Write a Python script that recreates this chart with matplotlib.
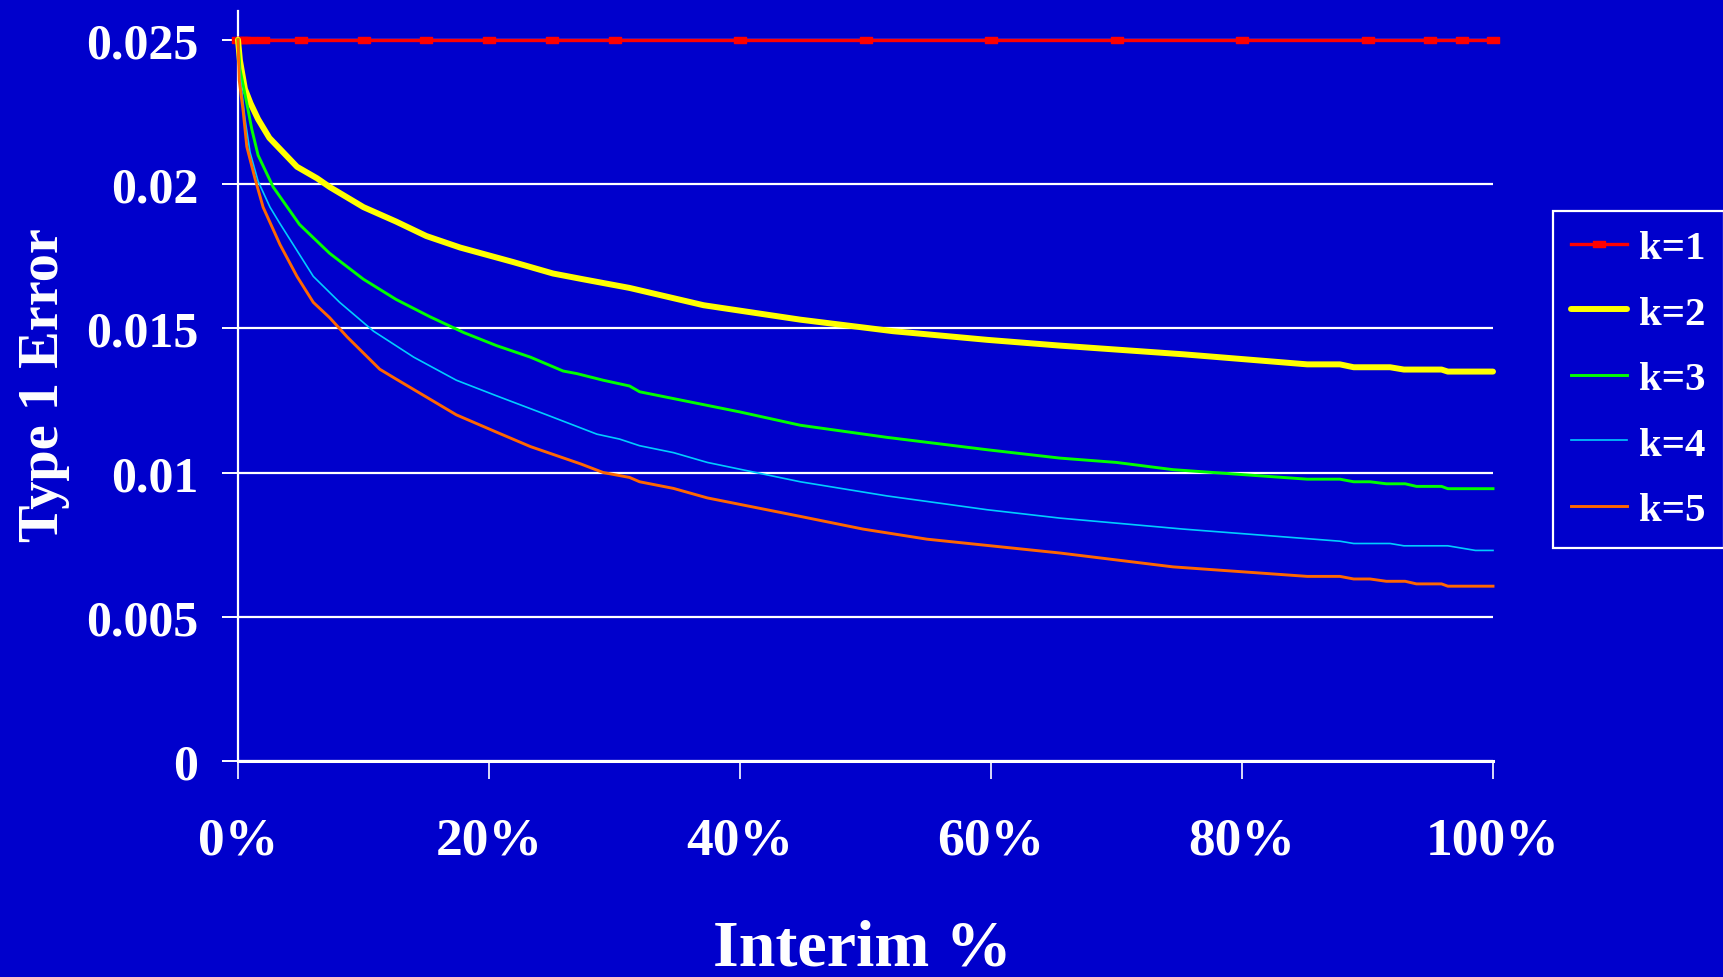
import matplotlib
matplotlib.use("Agg")
import matplotlib.pyplot as plt
from matplotlib.path import Path
from matplotlib.ticker import FormatStrFormatter, PercentFormatter

# Interim analysis fraction (%) and one-sided type 1 error at the final look
k1_x = [0, 0.25, 0.5, 1, 2, 5, 10, 15, 20, 25, 30, 40, 50, 60, 70, 80, 90, 95, 97.5, 100]
k1_y = [0.025] * len(k1_x)

k2_x = [0, 0.15, 0.55, 1.0, 1.6, 2.5, 3.6, 4.7, 6.3, 7.3, 10, 12.6, 15, 17.7, 21.9, 25.1,
        27.5, 31.2, 37.1, 44.8, 52.2, 59.7, 65.5, 75.3, 85.2, 87.8, 88.9, 91.8, 92.9,
        95.9, 96.4, 100]
k2_y = [0.0250, 0.0243, 0.0233, 0.0228, 0.02225, 0.0216, 0.0211, 0.0206, 0.0202, 0.0199,
        0.0192, 0.0187, 0.0182, 0.0178, 0.0173, 0.0169, 0.0167, 0.0164, 0.0158, 0.0153,
        0.0149, 0.0146, 0.0144, 0.0141, 0.01375, 0.01375, 0.01365, 0.01365, 0.01357,
        0.01357, 0.0135, 0.0135]

k3_x = [0, 0.15, 0.7, 1.1, 1.6, 2.8, 4.9, 7.3, 10, 12.6, 15.3, 18, 20.6, 23.3, 25.9, 27,
        29.1, 31.2, 32, 40, 44.8, 51.7, 59.7, 65.5, 70, 74.5, 85.2, 87.8, 88.9, 90.2,
        91.5, 93, 93.9, 95.9, 96.4, 100]
k3_y = [0.0250, 0.0240, 0.0228, 0.0219, 0.0210, 0.0199, 0.0186, 0.0176, 0.0167, 0.0160,
        0.0154, 0.01485, 0.0144, 0.0140, 0.01352, 0.01343, 0.0132, 0.0130, 0.0128, 0.0121,
        0.01164, 0.01122, 0.01079, 0.0105, 0.01035, 0.0101, 0.00977, 0.00977, 0.00968,
        0.00968, 0.00961, 0.00961, 0.00952, 0.00952, 0.00944, 0.00944]

k4_x = [0, 0.16, 0.56, 0.96, 1.6, 2.55, 3.3, 6.0, 8.1, 10.8, 14, 17.4, 20.6, 24.6, 28.6,
        30.4, 32, 34.7, 37.4, 44.8, 51.7, 59.7, 65.5, 75.3, 87.8, 88.9, 91.8, 92.9, 96.4,
        98.6, 100]
k4_y = [0.0250, 0.02375, 0.02225, 0.0211, 0.0201, 0.0192, 0.01866, 0.0168, 0.0159, 0.0149,
        0.0140, 0.0132, 0.01266, 0.0120, 0.01133, 0.01116, 0.01093, 0.01069, 0.01035,
        0.00968, 0.00919, 0.00871, 0.00842, 0.00804, 0.00762, 0.00754, 0.00754, 0.00746,
        0.00746, 0.0073, 0.0073]

k5_x = [0, 0.1, 0.42, 0.7, 1.35, 2.0, 3.35, 4.7, 6.0, 7.3, 8.7, 11.3, 12.6, 17.4, 20.6,
        23.3, 27.3, 29.1, 31.2, 32, 34.7, 37.4, 44.8, 49.8, 54.9, 65.5, 74.5, 85.2, 87.8,
        88.9, 90.2, 91.5, 93, 93.9, 95.9, 96.4, 100]
k5_y = [0.0250, 0.0236, 0.0225, 0.0213, 0.0202, 0.0192, 0.0179, 0.0168, 0.0159, 0.01537,
        0.0147, 0.01358, 0.01324, 0.0120, 0.0114, 0.0109, 0.0103, 0.0100, 0.00983, 0.00968,
        0.00945, 0.00912, 0.00848, 0.00804, 0.00769, 0.00721, 0.00673, 0.0064, 0.0064,
        0.00631, 0.00631, 0.00623, 0.00623, 0.00614, 0.00614, 0.00606, 0.00606]

labels = ["k=1", "k=2", "k=3", "k=4", "k=5"]
y_ticks = [0, 0.005, 0.01, 0.015, 0.02, 0.025]
x_ticks = [0, 20, 40, 60, 80, 100]

BG = "#0000CC"
FONT = "Liberation Serif"

fig = plt.figure(figsize=(17.23, 9.78), dpi=100, facecolor=BG)
ax = fig.add_axes([238 / 1723, 1 - 762 / 978, (1493 - 238) / 1723, (762 - 12) / 978])
ax.set_facecolor(BG)

# wide flat rectangle used as the k=1 point marker
rect = Path([(-1, -0.55), (1, -0.55), (1, 0.55), (-1, 0.55), (-1, -0.55)],
            [Path.MOVETO, Path.LINETO, Path.LINETO, Path.LINETO, Path.CLOSEPOLY])

ax.plot(k1_x, k1_y, color="#FF0000", lw=2.4, marker=rect, ms=8, mec="#FF0000",
        mfc="#FF0000", label=labels[0], clip_on=False, zorder=3)
ax.plot(k2_x, k2_y, color="#FFFF00", lw=4.3, label=labels[1], clip_on=False,
        solid_capstyle="round", zorder=4)
ax.plot(k3_x, k3_y, color="#00FF00", lw=2.1, label=labels[2], clip_on=False, zorder=5)
ax.plot(k4_x, k4_y, color="#00CCFF", lw=1.2, label=labels[3], clip_on=False, zorder=6)
ax.plot(k5_x, k5_y, color="#FF6600", lw=2.1, label=labels[4], clip_on=False, zorder=7)

ax.set_xlim(0, 100)
ax.set_ylim(0, 0.026)
ax.set_xticks(x_ticks)
ax.set_yticks(y_ticks)
ax.xaxis.set_major_formatter(PercentFormatter(xmax=100, decimals=0))
ax.yaxis.set_major_formatter(FormatStrFormatter("%g"))

ax.grid(axis="y", color="white", lw=1.6, zorder=1)
ax.grid(axis="x", visible=False)
ax.set_axisbelow(True)
for side in ("top", "right"):
    ax.spines[side].set_visible(False)
ax.spines["left"].set_color("white")
ax.spines["left"].set_linewidth(1.6)
ax.spines["bottom"].set_color("white")
ax.spines["bottom"].set_linewidth(2.2)

ax.tick_params(axis="y", colors="white", length=11.5, width=1.4, pad=17)
ax.tick_params(axis="x", colors="white", length=13, width=1.2, pad=27)
for lab in ax.get_yticklabels():
    lab.set_fontfamily(FONT)
    lab.set_fontweight("bold")
    lab.set_fontsize(36)
    lab.set_color("white")
for lab in ax.get_xticklabels():
    lab.set_fontfamily(FONT)
    lab.set_fontweight("bold")
    lab.set_fontsize(38.5)
    lab.set_color("white")

fig.text(44 / 1723, 1 - 385 / 978, "Type 1 Error", rotation=90, ha="center", va="center",
         color="white", fontfamily=FONT, fontweight="bold", fontsize=40.5)
fig.text(862 / 1723, 1 - 966 / 978, "Interim %", ha="center", va="baseline",
         color="white", fontfamily=FONT, fontweight="bold", fontsize=47.5)

leg = ax.legend(loc="upper left", bbox_to_anchor=(1553 / 1723, 1 - 212 / 978),
                bbox_transform=fig.transFigure, borderaxespad=0, frameon=True,
                fancybox=False, handlelength=1.35, handletextpad=0.3,
                labelspacing=0.68, borderpad=0.45,
                prop={"family": FONT, "weight": "bold", "size": 29.5})
frame = leg.get_frame()
frame.set_facecolor(BG)
frame.set_edgecolor("white")
frame.set_linewidth(1.6)
frame.set_alpha(1)
for t in leg.get_texts():
    t.set_color("white")

fig.savefig("out.png", dpi=100, facecolor=BG)
